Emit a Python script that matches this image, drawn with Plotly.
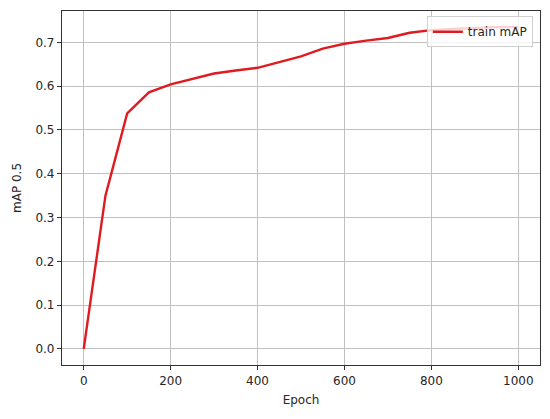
import plotly.graph_objects as go

epochs = [0, 50, 100, 150, 200, 250, 300, 350, 400, 450, 500, 550, 600, 650, 700, 750, 800, 850, 900, 950, 1000]
train_map = [0.0, 0.350, 0.538, 0.586, 0.604, 0.617, 0.629, 0.636, 0.642, 0.655, 0.668, 0.686, 0.697, 0.704, 0.710, 0.722, 0.728, 0.731, 0.733, 0.735, 0.735]
x_ticks = [0, 200, 400, 600, 800, 1000]
y_ticks = [0.0, 0.1, 0.2, 0.3, 0.4, 0.5, 0.6, 0.7]

FONT = dict(family="DejaVu Sans", size=12, color="#262626")

fig = go.Figure()
fig.add_trace(go.Scatter(x=epochs, y=train_map, mode="lines", name="train mAP",
                         line=dict(color="#e01b1f", width=2.4)))

axis_common = dict(showline=True, linecolor="#333333", linewidth=1.2, mirror=True,
                   ticks="outside", ticklen=4, tickcolor="#333333",
                   showgrid=True, gridcolor="#c0c0c0", gridwidth=1, zeroline=False,
                   tickfont=FONT, automargin=False)

fig.update_xaxes(range=[-50, 1050], tickvals=x_ticks,
                 title=dict(text="Epoch", font=FONT, standoff=9),
                 **axis_common)
fig.update_yaxes(range=[-0.03675, 0.77175], tickvals=y_ticks, tickformat=".1f",
                 title=dict(text="mAP 0.5", font=FONT, standoff=11),
                 **axis_common)

fig.update_layout(
    width=542, height=411,
    margin=dict(l=54, r=10, t=3, b=54),
    paper_bgcolor="white", plot_bgcolor="white",
    showlegend=True,
    legend=dict(x=0.985, y=0.985, xanchor="right", yanchor="top",
                bgcolor="rgba(255,255,255,0.8)", bordercolor="#d0d0d0", borderwidth=1,
                font=FONT, itemwidth=30, tracegroupgap=0),
)

fig.write_html("out.html")
